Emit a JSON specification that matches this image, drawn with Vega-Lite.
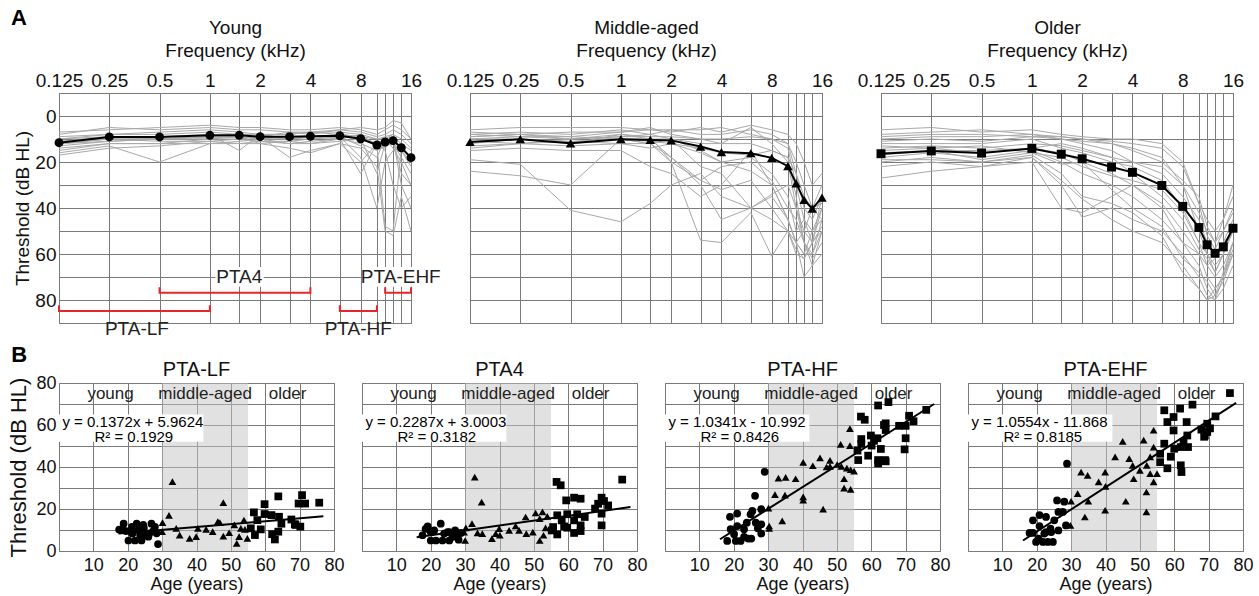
{
"$schema":"https://vega.github.io/schema/vega-lite/v6.json",
"padding":{"left":7,"top":6,"right":5,"bottom":0},
"config":{"font":"Liberation Sans","view":{"stroke":"#808080","strokeWidth":1},
"axis":{"ticks":false,"domain":false,"gridColor":"#7a7a7a","gridOpacity":1,"gridWidth":1,"labelColor":"#111","titleColor":"#111","titleFontWeight":"normal","labelFont":"Liberation Sans","titleFont":"Liberation Sans"},
"title":{"fontWeight":"normal","font":"Liberation Sans","color":"#111"},
"text":{"font":"Liberation Sans"}},
"datasets":{
"aud":[
{"g":"Y","id":"Y1","f":0.125,"t":10},{"g":"Y","id":"Y1","f":0.25,"t":8},{"g":"Y","id":"Y1","f":0.5,"t":7},{"g":"Y","id":"Y1","f":1,"t":6},{"g":"Y","id":"Y1","f":1.5,"t":7},{"g":"Y","id":"Y1","f":2,"t":8},{"g":"Y","id":"Y1","f":3,"t":8},{"g":"Y","id":"Y1","f":4,"t":7},{"g":"Y","id":"Y1","f":6,"t":7},{"g":"Y","id":"Y1","f":8,"t":8},{"g":"Y","id":"Y1","f":10,"t":10},{"g":"Y","id":"Y1","f":11.2,"t":9},{"g":"Y","id":"Y1","f":12.5,"t":8},{"g":"Y","id":"Y1","f":14,"t":10},{"g":"Y","id":"Y1","f":16,"t":14},
{"g":"Y","id":"Y2","f":0.125,"t":12},{"g":"Y","id":"Y2","f":0.25,"t":10},{"g":"Y","id":"Y2","f":0.5,"t":10},{"g":"Y","id":"Y2","f":1,"t":9},{"g":"Y","id":"Y2","f":1.5,"t":9},{"g":"Y","id":"Y2","f":2,"t":10},{"g":"Y","id":"Y2","f":3,"t":10},{"g":"Y","id":"Y2","f":4,"t":10},{"g":"Y","id":"Y2","f":6,"t":9},{"g":"Y","id":"Y2","f":8,"t":10},{"g":"Y","id":"Y2","f":10,"t":13},{"g":"Y","id":"Y2","f":11.2,"t":12},{"g":"Y","id":"Y2","f":12.5,"t":12},{"g":"Y","id":"Y2","f":14,"t":15},{"g":"Y","id":"Y2","f":16,"t":20},
{"g":"Y","id":"Y3","f":0.125,"t":14},{"g":"Y","id":"Y3","f":0.25,"t":12},{"g":"Y","id":"Y3","f":0.5,"t":12},{"g":"Y","id":"Y3","f":1,"t":10},{"g":"Y","id":"Y3","f":1.5,"t":10},{"g":"Y","id":"Y3","f":2,"t":11},{"g":"Y","id":"Y3","f":3,"t":12},{"g":"Y","id":"Y3","f":4,"t":12},{"g":"Y","id":"Y3","f":6,"t":10},{"g":"Y","id":"Y3","f":8,"t":12},{"g":"Y","id":"Y3","f":10,"t":15},{"g":"Y","id":"Y3","f":11.2,"t":13},{"g":"Y","id":"Y3","f":12.5,"t":12},{"g":"Y","id":"Y3","f":14,"t":18},{"g":"Y","id":"Y3","f":16,"t":25},
{"g":"Y","id":"Y4","f":0.125,"t":8},{"g":"Y","id":"Y4","f":0.25,"t":5},{"g":"Y","id":"Y4","f":0.5,"t":6},{"g":"Y","id":"Y4","f":1,"t":5},{"g":"Y","id":"Y4","f":1.5,"t":6},{"g":"Y","id":"Y4","f":2,"t":6},{"g":"Y","id":"Y4","f":3,"t":7},{"g":"Y","id":"Y4","f":4,"t":7},{"g":"Y","id":"Y4","f":6,"t":6},{"g":"Y","id":"Y4","f":8,"t":7},{"g":"Y","id":"Y4","f":10,"t":9},{"g":"Y","id":"Y4","f":11.2,"t":8},{"g":"Y","id":"Y4","f":12.5,"t":6},{"g":"Y","id":"Y4","f":14,"t":8},{"g":"Y","id":"Y4","f":16,"t":12},
{"g":"Y","id":"Y5","f":0.125,"t":16},{"g":"Y","id":"Y5","f":0.25,"t":13},{"g":"Y","id":"Y5","f":0.5,"t":20},{"g":"Y","id":"Y5","f":1,"t":12},{"g":"Y","id":"Y5","f":1.5,"t":11},{"g":"Y","id":"Y5","f":2,"t":10},{"g":"Y","id":"Y5","f":3,"t":12},{"g":"Y","id":"Y5","f":4,"t":11},{"g":"Y","id":"Y5","f":6,"t":10},{"g":"Y","id":"Y5","f":8,"t":25},{"g":"Y","id":"Y5","f":10,"t":12},{"g":"Y","id":"Y5","f":11.2,"t":10},{"g":"Y","id":"Y5","f":12.5,"t":14},{"g":"Y","id":"Y5","f":14,"t":20},{"g":"Y","id":"Y5","f":16,"t":30},
{"g":"Y","id":"Y6","f":0.125,"t":11},{"g":"Y","id":"Y6","f":0.25,"t":9},{"g":"Y","id":"Y6","f":0.5,"t":9},{"g":"Y","id":"Y6","f":1,"t":8},{"g":"Y","id":"Y6","f":1.5,"t":15},{"g":"Y","id":"Y6","f":2,"t":8},{"g":"Y","id":"Y6","f":3,"t":10},{"g":"Y","id":"Y6","f":4,"t":9},{"g":"Y","id":"Y6","f":6,"t":10},{"g":"Y","id":"Y6","f":8,"t":8},{"g":"Y","id":"Y6","f":10,"t":13},{"g":"Y","id":"Y6","f":11.2,"t":48},{"g":"Y","id":"Y6","f":12.5,"t":50},{"g":"Y","id":"Y6","f":14,"t":14},{"g":"Y","id":"Y6","f":16,"t":18},
{"g":"Y","id":"Y7","f":0.125,"t":9},{"g":"Y","id":"Y7","f":0.25,"t":8},{"g":"Y","id":"Y7","f":0.5,"t":8},{"g":"Y","id":"Y7","f":1,"t":7},{"g":"Y","id":"Y7","f":1.5,"t":8},{"g":"Y","id":"Y7","f":2,"t":9},{"g":"Y","id":"Y7","f":3,"t":7},{"g":"Y","id":"Y7","f":4,"t":8},{"g":"Y","id":"Y7","f":6,"t":6},{"g":"Y","id":"Y7","f":8,"t":5},{"g":"Y","id":"Y7","f":10,"t":6},{"g":"Y","id":"Y7","f":11.2,"t":5},{"g":"Y","id":"Y7","f":12.5,"t":2},{"g":"Y","id":"Y7","f":14,"t":3},{"g":"Y","id":"Y7","f":16,"t":10},
{"g":"Y","id":"Y8","f":0.125,"t":13},{"g":"Y","id":"Y8","f":0.25,"t":11},{"g":"Y","id":"Y8","f":0.5,"t":10},{"g":"Y","id":"Y8","f":1,"t":10},{"g":"Y","id":"Y8","f":1.5,"t":9},{"g":"Y","id":"Y8","f":2,"t":12},{"g":"Y","id":"Y8","f":3,"t":14},{"g":"Y","id":"Y8","f":4,"t":16},{"g":"Y","id":"Y8","f":6,"t":12},{"g":"Y","id":"Y8","f":8,"t":14},{"g":"Y","id":"Y8","f":10,"t":22},{"g":"Y","id":"Y8","f":11.2,"t":50},{"g":"Y","id":"Y8","f":12.5,"t":52},{"g":"Y","id":"Y8","f":14,"t":35},{"g":"Y","id":"Y8","f":16,"t":50},
{"g":"Y","id":"Y9","f":0.125,"t":12},{"g":"Y","id":"Y9","f":0.25,"t":10},{"g":"Y","id":"Y9","f":0.5,"t":11},{"g":"Y","id":"Y9","f":1,"t":11},{"g":"Y","id":"Y9","f":1.5,"t":10},{"g":"Y","id":"Y9","f":2,"t":9},{"g":"Y","id":"Y9","f":3,"t":18},{"g":"Y","id":"Y9","f":4,"t":15},{"g":"Y","id":"Y9","f":6,"t":12},{"g":"Y","id":"Y9","f":8,"t":20},{"g":"Y","id":"Y9","f":10,"t":12},{"g":"Y","id":"Y9","f":11.2,"t":14},{"g":"Y","id":"Y9","f":12.5,"t":10},{"g":"Y","id":"Y9","f":14,"t":25},{"g":"Y","id":"Y9","f":16,"t":30},
{"g":"Y","id":"Y10","f":0.125,"t":10},{"g":"Y","id":"Y10","f":0.25,"t":9},{"g":"Y","id":"Y10","f":0.5,"t":10},{"g":"Y","id":"Y10","f":1,"t":9},{"g":"Y","id":"Y10","f":1.5,"t":8},{"g":"Y","id":"Y10","f":2,"t":8},{"g":"Y","id":"Y10","f":3,"t":8},{"g":"Y","id":"Y10","f":4,"t":7},{"g":"Y","id":"Y10","f":6,"t":8},{"g":"Y","id":"Y10","f":8,"t":9},{"g":"Y","id":"Y10","f":10,"t":10},{"g":"Y","id":"Y10","f":11.2,"t":10},{"g":"Y","id":"Y10","f":12.5,"t":9},{"g":"Y","id":"Y10","f":14,"t":12},{"g":"Y","id":"Y10","f":16,"t":15},
{"g":"Y","id":"Y11","f":0.125,"t":17},{"g":"Y","id":"Y11","f":0.25,"t":14},{"g":"Y","id":"Y11","f":0.5,"t":13},{"g":"Y","id":"Y11","f":1,"t":11},{"g":"Y","id":"Y11","f":1.5,"t":12},{"g":"Y","id":"Y11","f":2,"t":12},{"g":"Y","id":"Y11","f":3,"t":11},{"g":"Y","id":"Y11","f":4,"t":12},{"g":"Y","id":"Y11","f":6,"t":11},{"g":"Y","id":"Y11","f":8,"t":10},{"g":"Y","id":"Y11","f":10,"t":25},{"g":"Y","id":"Y11","f":11.2,"t":12},{"g":"Y","id":"Y11","f":12.5,"t":10},{"g":"Y","id":"Y11","f":14,"t":30},{"g":"Y","id":"Y11","f":16,"t":40},
{"g":"Y","id":"Y12","f":0.125,"t":7},{"g":"Y","id":"Y12","f":0.25,"t":6},{"g":"Y","id":"Y12","f":0.5,"t":5},{"g":"Y","id":"Y12","f":1,"t":4},{"g":"Y","id":"Y12","f":1.5,"t":5},{"g":"Y","id":"Y12","f":2,"t":5},{"g":"Y","id":"Y12","f":3,"t":6},{"g":"Y","id":"Y12","f":4,"t":6},{"g":"Y","id":"Y12","f":6,"t":5},{"g":"Y","id":"Y12","f":8,"t":6},{"g":"Y","id":"Y12","f":10,"t":8},{"g":"Y","id":"Y12","f":11.2,"t":6},{"g":"Y","id":"Y12","f":12.5,"t":4},{"g":"Y","id":"Y12","f":14,"t":6},{"g":"Y","id":"Y12","f":16,"t":10},
{"g":"Y","id":"Y13","f":0.125,"t":15},{"g":"Y","id":"Y13","f":0.25,"t":12},{"g":"Y","id":"Y13","f":0.5,"t":12},{"g":"Y","id":"Y13","f":1,"t":12},{"g":"Y","id":"Y13","f":1.5,"t":12},{"g":"Y","id":"Y13","f":2,"t":11},{"g":"Y","id":"Y13","f":3,"t":11},{"g":"Y","id":"Y13","f":4,"t":10},{"g":"Y","id":"Y13","f":6,"t":9},{"g":"Y","id":"Y13","f":8,"t":18},{"g":"Y","id":"Y13","f":10,"t":40},{"g":"Y","id":"Y13","f":11.2,"t":20},{"g":"Y","id":"Y13","f":12.5,"t":15},{"g":"Y","id":"Y13","f":14,"t":12},{"g":"Y","id":"Y13","f":16,"t":20},
{"g":"Y","id":"Y14","f":0.125,"t":11},{"g":"Y","id":"Y14","f":0.25,"t":10},{"g":"Y","id":"Y14","f":0.5,"t":10},{"g":"Y","id":"Y14","f":1,"t":10},{"g":"Y","id":"Y14","f":1.5,"t":8},{"g":"Y","id":"Y14","f":2,"t":9},{"g":"Y","id":"Y14","f":3,"t":10},{"g":"Y","id":"Y14","f":4,"t":9},{"g":"Y","id":"Y14","f":6,"t":8},{"g":"Y","id":"Y14","f":8,"t":9},{"g":"Y","id":"Y14","f":10,"t":12},{"g":"Y","id":"Y14","f":11.2,"t":15},{"g":"Y","id":"Y14","f":12.5,"t":30},{"g":"Y","id":"Y14","f":14,"t":40},{"g":"Y","id":"Y14","f":16,"t":35},
{"g":"Y","id":"Y15","f":0.125,"t":12},{"g":"Y","id":"Y15","f":0.25,"t":11},{"g":"Y","id":"Y15","f":0.5,"t":10},{"g":"Y","id":"Y15","f":1,"t":9},{"g":"Y","id":"Y15","f":1.5,"t":9},{"g":"Y","id":"Y15","f":2,"t":10},{"g":"Y","id":"Y15","f":3,"t":9},{"g":"Y","id":"Y15","f":4,"t":9},{"g":"Y","id":"Y15","f":6,"t":9},{"g":"Y","id":"Y15","f":8,"t":13},{"g":"Y","id":"Y15","f":10,"t":18},{"g":"Y","id":"Y15","f":11.2,"t":10},{"g":"Y","id":"Y15","f":12.5,"t":8},{"g":"Y","id":"Y15","f":14,"t":15},{"g":"Y","id":"Y15","f":16,"t":22},
{"g":"M","id":"M1","f":0.125,"t":8},{"g":"M","id":"M1","f":0.25,"t":7},{"g":"M","id":"M1","f":0.5,"t":8},{"g":"M","id":"M1","f":1,"t":6},{"g":"M","id":"M1","f":1.5,"t":8},{"g":"M","id":"M1","f":2,"t":6},{"g":"M","id":"M1","f":3,"t":8},{"g":"M","id":"M1","f":4,"t":8},{"g":"M","id":"M1","f":6,"t":6},{"g":"M","id":"M1","f":8,"t":8},{"g":"M","id":"M1","f":10,"t":12},{"g":"M","id":"M1","f":11.2,"t":25},{"g":"M","id":"M1","f":12.5,"t":40},{"g":"M","id":"M1","f":14,"t":45},{"g":"M","id":"M1","f":16,"t":35},
{"g":"M","id":"M2","f":0.125,"t":10},{"g":"M","id":"M2","f":0.25,"t":9},{"g":"M","id":"M2","f":0.5,"t":10},{"g":"M","id":"M2","f":1,"t":9},{"g":"M","id":"M2","f":1.5,"t":9},{"g":"M","id":"M2","f":2,"t":9},{"g":"M","id":"M2","f":3,"t":10},{"g":"M","id":"M2","f":4,"t":10},{"g":"M","id":"M2","f":6,"t":9},{"g":"M","id":"M2","f":8,"t":10},{"g":"M","id":"M2","f":10,"t":14},{"g":"M","id":"M2","f":11.2,"t":30},{"g":"M","id":"M2","f":12.5,"t":45},{"g":"M","id":"M2","f":14,"t":50},{"g":"M","id":"M2","f":16,"t":40},
{"g":"M","id":"M3","f":0.125,"t":12},{"g":"M","id":"M3","f":0.25,"t":10},{"g":"M","id":"M3","f":0.5,"t":12},{"g":"M","id":"M3","f":1,"t":10},{"g":"M","id":"M3","f":1.5,"t":10},{"g":"M","id":"M3","f":2,"t":10},{"g":"M","id":"M3","f":3,"t":12},{"g":"M","id":"M3","f":4,"t":12},{"g":"M","id":"M3","f":6,"t":12},{"g":"M","id":"M3","f":8,"t":15},{"g":"M","id":"M3","f":10,"t":18},{"g":"M","id":"M3","f":11.2,"t":35},{"g":"M","id":"M3","f":12.5,"t":55},{"g":"M","id":"M3","f":14,"t":60},{"g":"M","id":"M3","f":16,"t":45},
{"g":"M","id":"M4","f":0.125,"t":6},{"g":"M","id":"M4","f":0.25,"t":5},{"g":"M","id":"M4","f":0.5,"t":5},{"g":"M","id":"M4","f":1,"t":5},{"g":"M","id":"M4","f":1.5,"t":6},{"g":"M","id":"M4","f":2,"t":7},{"g":"M","id":"M4","f":3,"t":5},{"g":"M","id":"M4","f":4,"t":7},{"g":"M","id":"M4","f":6,"t":4},{"g":"M","id":"M4","f":8,"t":6},{"g":"M","id":"M4","f":10,"t":8},{"g":"M","id":"M4","f":11.2,"t":12},{"g":"M","id":"M4","f":12.5,"t":20},{"g":"M","id":"M4","f":14,"t":30},{"g":"M","id":"M4","f":16,"t":25},
{"g":"M","id":"M5","f":0.125,"t":15},{"g":"M","id":"M5","f":0.25,"t":14},{"g":"M","id":"M5","f":0.5,"t":15},{"g":"M","id":"M5","f":1,"t":15},{"g":"M","id":"M5","f":1.5,"t":22},{"g":"M","id":"M5","f":2,"t":25},{"g":"M","id":"M5","f":3,"t":35},{"g":"M","id":"M5","f":4,"t":30},{"g":"M","id":"M5","f":6,"t":15},{"g":"M","id":"M5","f":8,"t":30},{"g":"M","id":"M5","f":10,"t":45},{"g":"M","id":"M5","f":11.2,"t":55},{"g":"M","id":"M5","f":12.5,"t":60},{"g":"M","id":"M5","f":14,"t":60},{"g":"M","id":"M5","f":16,"t":50},
{"g":"M","id":"M6","f":0.125,"t":19},{"g":"M","id":"M6","f":0.25,"t":21},{"g":"M","id":"M6","f":0.5,"t":41},{"g":"M","id":"M6","f":1,"t":46},{"g":"M","id":"M6","f":1.5,"t":38},{"g":"M","id":"M6","f":2,"t":30},{"g":"M","id":"M6","f":3,"t":25},{"g":"M","id":"M6","f":4,"t":35},{"g":"M","id":"M6","f":6,"t":40},{"g":"M","id":"M6","f":8,"t":45},{"g":"M","id":"M6","f":10,"t":50},{"g":"M","id":"M6","f":11.2,"t":60},{"g":"M","id":"M6","f":12.5,"t":62},{"g":"M","id":"M6","f":14,"t":55},{"g":"M","id":"M6","f":16,"t":50},
{"g":"M","id":"M7","f":0.125,"t":24},{"g":"M","id":"M7","f":0.25,"t":26},{"g":"M","id":"M7","f":0.5,"t":30},{"g":"M","id":"M7","f":1,"t":10},{"g":"M","id":"M7","f":1.5,"t":12},{"g":"M","id":"M7","f":2,"t":18},{"g":"M","id":"M7","f":3,"t":30},{"g":"M","id":"M7","f":4,"t":45},{"g":"M","id":"M7","f":6,"t":40},{"g":"M","id":"M7","f":8,"t":35},{"g":"M","id":"M7","f":10,"t":45},{"g":"M","id":"M7","f":11.2,"t":55},{"g":"M","id":"M7","f":12.5,"t":60},{"g":"M","id":"M7","f":14,"t":50},{"g":"M","id":"M7","f":16,"t":45},
{"g":"M","id":"M8","f":0.125,"t":14},{"g":"M","id":"M8","f":0.25,"t":12},{"g":"M","id":"M8","f":0.5,"t":11},{"g":"M","id":"M8","f":1,"t":12},{"g":"M","id":"M8","f":1.5,"t":12},{"g":"M","id":"M8","f":2,"t":10},{"g":"M","id":"M8","f":3,"t":15},{"g":"M","id":"M8","f":4,"t":20},{"g":"M","id":"M8","f":6,"t":18},{"g":"M","id":"M8","f":8,"t":25},{"g":"M","id":"M8","f":10,"t":35},{"g":"M","id":"M8","f":11.2,"t":50},{"g":"M","id":"M8","f":12.5,"t":45},{"g":"M","id":"M8","f":14,"t":55},{"g":"M","id":"M8","f":16,"t":40},
{"g":"M","id":"M9","f":0.125,"t":10},{"g":"M","id":"M9","f":0.25,"t":10},{"g":"M","id":"M9","f":0.5,"t":12},{"g":"M","id":"M9","f":1,"t":8},{"g":"M","id":"M9","f":1.5,"t":10},{"g":"M","id":"M9","f":2,"t":18},{"g":"M","id":"M9","f":3,"t":28},{"g":"M","id":"M9","f":4,"t":32},{"g":"M","id":"M9","f":6,"t":28},{"g":"M","id":"M9","f":8,"t":40},{"g":"M","id":"M9","f":10,"t":50},{"g":"M","id":"M9","f":11.2,"t":55},{"g":"M","id":"M9","f":12.5,"t":50},{"g":"M","id":"M9","f":14,"t":40},{"g":"M","id":"M9","f":16,"t":45},
{"g":"M","id":"M10","f":0.125,"t":9},{"g":"M","id":"M10","f":0.25,"t":8},{"g":"M","id":"M10","f":0.5,"t":9},{"g":"M","id":"M10","f":1,"t":10},{"g":"M","id":"M10","f":1.5,"t":11},{"g":"M","id":"M10","f":2,"t":12},{"g":"M","id":"M10","f":3,"t":14},{"g":"M","id":"M10","f":4,"t":16},{"g":"M","id":"M10","f":6,"t":17},{"g":"M","id":"M10","f":8,"t":15},{"g":"M","id":"M10","f":10,"t":18},{"g":"M","id":"M10","f":11.2,"t":25},{"g":"M","id":"M10","f":12.5,"t":35},{"g":"M","id":"M10","f":14,"t":40},{"g":"M","id":"M10","f":16,"t":38},
{"g":"M","id":"M11","f":0.125,"t":11},{"g":"M","id":"M11","f":0.25,"t":12},{"g":"M","id":"M11","f":0.5,"t":10},{"g":"M","id":"M11","f":1,"t":8},{"g":"M","id":"M11","f":1.5,"t":9},{"g":"M","id":"M11","f":2,"t":20},{"g":"M","id":"M11","f":3,"t":28},{"g":"M","id":"M11","f":4,"t":22},{"g":"M","id":"M11","f":6,"t":20},{"g":"M","id":"M11","f":8,"t":28},{"g":"M","id":"M11","f":10,"t":40},{"g":"M","id":"M11","f":11.2,"t":45},{"g":"M","id":"M11","f":12.5,"t":55},{"g":"M","id":"M11","f":14,"t":62},{"g":"M","id":"M11","f":16,"t":55},
{"g":"M","id":"M12","f":0.125,"t":7},{"g":"M","id":"M12","f":0.25,"t":8},{"g":"M","id":"M12","f":0.5,"t":7},{"g":"M","id":"M12","f":1,"t":7},{"g":"M","id":"M12","f":1.5,"t":6},{"g":"M","id":"M12","f":2,"t":6},{"g":"M","id":"M12","f":3,"t":6},{"g":"M","id":"M12","f":4,"t":5},{"g":"M","id":"M12","f":6,"t":8},{"g":"M","id":"M12","f":8,"t":10},{"g":"M","id":"M12","f":10,"t":12},{"g":"M","id":"M12","f":11.2,"t":20},{"g":"M","id":"M12","f":12.5,"t":30},{"g":"M","id":"M12","f":14,"t":40},{"g":"M","id":"M12","f":16,"t":30},
{"g":"M","id":"M13","f":0.125,"t":13},{"g":"M","id":"M13","f":0.25,"t":12},{"g":"M","id":"M13","f":0.5,"t":13},{"g":"M","id":"M13","f":1,"t":12},{"g":"M","id":"M13","f":1.5,"t":14},{"g":"M","id":"M13","f":2,"t":12},{"g":"M","id":"M13","f":3,"t":16},{"g":"M","id":"M13","f":4,"t":20},{"g":"M","id":"M13","f":6,"t":24},{"g":"M","id":"M13","f":8,"t":30},{"g":"M","id":"M13","f":10,"t":45},{"g":"M","id":"M13","f":11.2,"t":55},{"g":"M","id":"M13","f":12.5,"t":70},{"g":"M","id":"M13","f":14,"t":65},{"g":"M","id":"M13","f":16,"t":60},
{"g":"M","id":"M14","f":0.125,"t":9},{"g":"M","id":"M14","f":0.25,"t":8},{"g":"M","id":"M14","f":0.5,"t":10},{"g":"M","id":"M14","f":1,"t":9},{"g":"M","id":"M14","f":1.5,"t":8},{"g":"M","id":"M14","f":2,"t":10},{"g":"M","id":"M14","f":3,"t":22},{"g":"M","id":"M14","f":4,"t":25},{"g":"M","id":"M14","f":6,"t":40},{"g":"M","id":"M14","f":8,"t":34},{"g":"M","id":"M14","f":10,"t":30},{"g":"M","id":"M14","f":11.2,"t":40},{"g":"M","id":"M14","f":12.5,"t":50},{"g":"M","id":"M14","f":14,"t":55},{"g":"M","id":"M14","f":16,"t":35},
{"g":"M","id":"M15","f":0.125,"t":11},{"g":"M","id":"M15","f":0.25,"t":10},{"g":"M","id":"M15","f":0.5,"t":11},{"g":"M","id":"M15","f":1,"t":10},{"g":"M","id":"M15","f":1.5,"t":12},{"g":"M","id":"M15","f":2,"t":20},{"g":"M","id":"M15","f":3,"t":54},{"g":"M","id":"M15","f":4,"t":55},{"g":"M","id":"M15","f":6,"t":42},{"g":"M","id":"M15","f":8,"t":61},{"g":"M","id":"M15","f":10,"t":50},{"g":"M","id":"M15","f":11.2,"t":58},{"g":"M","id":"M15","f":12.5,"t":62},{"g":"M","id":"M15","f":14,"t":55},{"g":"M","id":"M15","f":16,"t":48},
{"g":"M","id":"M16","f":0.125,"t":8},{"g":"M","id":"M16","f":0.25,"t":9},{"g":"M","id":"M16","f":0.5,"t":9},{"g":"M","id":"M16","f":1,"t":7},{"g":"M","id":"M16","f":1.5,"t":5},{"g":"M","id":"M16","f":2,"t":8},{"g":"M","id":"M16","f":3,"t":10},{"g":"M","id":"M16","f":4,"t":12},{"g":"M","id":"M16","f":6,"t":5},{"g":"M","id":"M16","f":8,"t":12},{"g":"M","id":"M16","f":10,"t":20},{"g":"M","id":"M16","f":11.2,"t":40},{"g":"M","id":"M16","f":12.5,"t":55},{"g":"M","id":"M16","f":14,"t":65},{"g":"M","id":"M16","f":16,"t":50},
{"g":"O","id":"O1","f":0.125,"t":8},{"g":"O","id":"O1","f":0.25,"t":7},{"g":"O","id":"O1","f":0.5,"t":6},{"g":"O","id":"O1","f":1,"t":8},{"g":"O","id":"O1","f":1.5,"t":10},{"g":"O","id":"O1","f":2,"t":12},{"g":"O","id":"O1","f":3,"t":15},{"g":"O","id":"O1","f":4,"t":20},{"g":"O","id":"O1","f":6,"t":25},{"g":"O","id":"O1","f":8,"t":35},{"g":"O","id":"O1","f":10,"t":45},{"g":"O","id":"O1","f":11.2,"t":55},{"g":"O","id":"O1","f":12.5,"t":60},{"g":"O","id":"O1","f":14,"t":55},{"g":"O","id":"O1","f":16,"t":45},
{"g":"O","id":"O2","f":0.125,"t":10},{"g":"O","id":"O2","f":0.25,"t":9},{"g":"O","id":"O2","f":0.5,"t":9},{"g":"O","id":"O2","f":1,"t":8},{"g":"O","id":"O2","f":1.5,"t":9},{"g":"O","id":"O2","f":2,"t":10},{"g":"O","id":"O2","f":3,"t":12},{"g":"O","id":"O2","f":4,"t":14},{"g":"O","id":"O2","f":6,"t":18},{"g":"O","id":"O2","f":8,"t":30},{"g":"O","id":"O2","f":10,"t":50},{"g":"O","id":"O2","f":11.2,"t":60},{"g":"O","id":"O2","f":12.5,"t":65},{"g":"O","id":"O2","f":14,"t":60},{"g":"O","id":"O2","f":16,"t":50},
{"g":"O","id":"O3","f":0.125,"t":12},{"g":"O","id":"O3","f":0.25,"t":12},{"g":"O","id":"O3","f":0.5,"t":12},{"g":"O","id":"O3","f":1,"t":10},{"g":"O","id":"O3","f":1.5,"t":14},{"g":"O","id":"O3","f":2,"t":16},{"g":"O","id":"O3","f":3,"t":20},{"g":"O","id":"O3","f":4,"t":22},{"g":"O","id":"O3","f":6,"t":28},{"g":"O","id":"O3","f":8,"t":40},{"g":"O","id":"O3","f":10,"t":55},{"g":"O","id":"O3","f":11.2,"t":65},{"g":"O","id":"O3","f":12.5,"t":70},{"g":"O","id":"O3","f":14,"t":65},{"g":"O","id":"O3","f":16,"t":55},
{"g":"O","id":"O4","f":0.125,"t":14},{"g":"O","id":"O4","f":0.25,"t":13},{"g":"O","id":"O4","f":0.5,"t":14},{"g":"O","id":"O4","f":1,"t":12},{"g":"O","id":"O4","f":1.5,"t":13},{"g":"O","id":"O4","f":2,"t":15},{"g":"O","id":"O4","f":3,"t":18},{"g":"O","id":"O4","f":4,"t":20},{"g":"O","id":"O4","f":6,"t":22},{"g":"O","id":"O4","f":8,"t":30},{"g":"O","id":"O4","f":10,"t":42},{"g":"O","id":"O4","f":11.2,"t":50},{"g":"O","id":"O4","f":12.5,"t":55},{"g":"O","id":"O4","f":14,"t":50},{"g":"O","id":"O4","f":16,"t":40},
{"g":"O","id":"O5","f":0.125,"t":16},{"g":"O","id":"O5","f":0.25,"t":15},{"g":"O","id":"O5","f":0.5,"t":15},{"g":"O","id":"O5","f":1,"t":14},{"g":"O","id":"O5","f":1.5,"t":16},{"g":"O","id":"O5","f":2,"t":20},{"g":"O","id":"O5","f":3,"t":25},{"g":"O","id":"O5","f":4,"t":30},{"g":"O","id":"O5","f":6,"t":38},{"g":"O","id":"O5","f":8,"t":50},{"g":"O","id":"O5","f":10,"t":60},{"g":"O","id":"O5","f":11.2,"t":70},{"g":"O","id":"O5","f":12.5,"t":75},{"g":"O","id":"O5","f":14,"t":70},{"g":"O","id":"O5","f":16,"t":60},
{"g":"O","id":"O6","f":0.125,"t":18},{"g":"O","id":"O6","f":0.25,"t":16},{"g":"O","id":"O6","f":0.5,"t":18},{"g":"O","id":"O6","f":1,"t":15},{"g":"O","id":"O6","f":1.5,"t":20},{"g":"O","id":"O6","f":2,"t":25},{"g":"O","id":"O6","f":3,"t":30},{"g":"O","id":"O6","f":4,"t":35},{"g":"O","id":"O6","f":6,"t":45},{"g":"O","id":"O6","f":8,"t":55},{"g":"O","id":"O6","f":10,"t":65},{"g":"O","id":"O6","f":11.2,"t":75},{"g":"O","id":"O6","f":12.5,"t":80},{"g":"O","id":"O6","f":14,"t":75},{"g":"O","id":"O6","f":16,"t":65},
{"g":"O","id":"O7","f":0.125,"t":20},{"g":"O","id":"O7","f":0.25,"t":18},{"g":"O","id":"O7","f":0.5,"t":20},{"g":"O","id":"O7","f":1,"t":18},{"g":"O","id":"O7","f":1.5,"t":30},{"g":"O","id":"O7","f":2,"t":44},{"g":"O","id":"O7","f":3,"t":40},{"g":"O","id":"O7","f":4,"t":45},{"g":"O","id":"O7","f":6,"t":50},{"g":"O","id":"O7","f":8,"t":60},{"g":"O","id":"O7","f":10,"t":70},{"g":"O","id":"O7","f":11.2,"t":78},{"g":"O","id":"O7","f":12.5,"t":80},{"g":"O","id":"O7","f":14,"t":70},{"g":"O","id":"O7","f":16,"t":55},
{"g":"O","id":"O8","f":0.125,"t":22},{"g":"O","id":"O8","f":0.25,"t":20},{"g":"O","id":"O8","f":0.5,"t":22},{"g":"O","id":"O8","f":1,"t":20},{"g":"O","id":"O8","f":1.5,"t":40},{"g":"O","id":"O8","f":2,"t":42},{"g":"O","id":"O8","f":3,"t":35},{"g":"O","id":"O8","f":4,"t":30},{"g":"O","id":"O8","f":6,"t":40},{"g":"O","id":"O8","f":8,"t":55},{"g":"O","id":"O8","f":10,"t":60},{"g":"O","id":"O8","f":11.2,"t":65},{"g":"O","id":"O8","f":12.5,"t":62},{"g":"O","id":"O8","f":14,"t":55},{"g":"O","id":"O8","f":16,"t":50},
{"g":"O","id":"O9","f":0.125,"t":27},{"g":"O","id":"O9","f":0.25,"t":24},{"g":"O","id":"O9","f":0.5,"t":22},{"g":"O","id":"O9","f":1,"t":18},{"g":"O","id":"O9","f":1.5,"t":28},{"g":"O","id":"O9","f":2,"t":36},{"g":"O","id":"O9","f":3,"t":45},{"g":"O","id":"O9","f":4,"t":50},{"g":"O","id":"O9","f":6,"t":55},{"g":"O","id":"O9","f":8,"t":65},{"g":"O","id":"O9","f":10,"t":75},{"g":"O","id":"O9","f":11.2,"t":80},{"g":"O","id":"O9","f":12.5,"t":78},{"g":"O","id":"O9","f":14,"t":72},{"g":"O","id":"O9","f":16,"t":60},
{"g":"O","id":"O10","f":0.125,"t":11},{"g":"O","id":"O10","f":0.25,"t":10},{"g":"O","id":"O10","f":0.5,"t":11},{"g":"O","id":"O10","f":1,"t":9},{"g":"O","id":"O10","f":1.5,"t":9},{"g":"O","id":"O10","f":2,"t":10},{"g":"O","id":"O10","f":3,"t":11},{"g":"O","id":"O10","f":4,"t":12},{"g":"O","id":"O10","f":6,"t":14},{"g":"O","id":"O10","f":8,"t":22},{"g":"O","id":"O10","f":10,"t":38},{"g":"O","id":"O10","f":11.2,"t":45},{"g":"O","id":"O10","f":12.5,"t":50},{"g":"O","id":"O10","f":14,"t":45},{"g":"O","id":"O10","f":16,"t":35},
{"g":"O","id":"O11","f":0.125,"t":15},{"g":"O","id":"O11","f":0.25,"t":14},{"g":"O","id":"O11","f":0.5,"t":16},{"g":"O","id":"O11","f":1,"t":14},{"g":"O","id":"O11","f":1.5,"t":12},{"g":"O","id":"O11","f":2,"t":14},{"g":"O","id":"O11","f":3,"t":18},{"g":"O","id":"O11","f":4,"t":25},{"g":"O","id":"O11","f":6,"t":35},{"g":"O","id":"O11","f":8,"t":45},{"g":"O","id":"O11","f":10,"t":58},{"g":"O","id":"O11","f":11.2,"t":62},{"g":"O","id":"O11","f":12.5,"t":68},{"g":"O","id":"O11","f":14,"t":60},{"g":"O","id":"O11","f":16,"t":50},
{"g":"O","id":"O12","f":0.125,"t":9},{"g":"O","id":"O12","f":0.25,"t":8},{"g":"O","id":"O12","f":0.5,"t":8},{"g":"O","id":"O12","f":1,"t":9},{"g":"O","id":"O12","f":1.5,"t":10},{"g":"O","id":"O12","f":2,"t":11},{"g":"O","id":"O12","f":3,"t":12},{"g":"O","id":"O12","f":4,"t":15},{"g":"O","id":"O12","f":6,"t":20},{"g":"O","id":"O12","f":8,"t":28},{"g":"O","id":"O12","f":10,"t":35},{"g":"O","id":"O12","f":11.2,"t":48},{"g":"O","id":"O12","f":12.5,"t":55},{"g":"O","id":"O12","f":14,"t":45},{"g":"O","id":"O12","f":16,"t":30},
{"g":"O","id":"O13","f":0.125,"t":13},{"g":"O","id":"O13","f":0.25,"t":14},{"g":"O","id":"O13","f":0.5,"t":13},{"g":"O","id":"O13","f":1,"t":16},{"g":"O","id":"O13","f":1.5,"t":18},{"g":"O","id":"O13","f":2,"t":22},{"g":"O","id":"O13","f":3,"t":26},{"g":"O","id":"O13","f":4,"t":28},{"g":"O","id":"O13","f":6,"t":32},{"g":"O","id":"O13","f":8,"t":42},{"g":"O","id":"O13","f":10,"t":55},{"g":"O","id":"O13","f":11.2,"t":60},{"g":"O","id":"O13","f":12.5,"t":68},{"g":"O","id":"O13","f":14,"t":60},{"g":"O","id":"O13","f":16,"t":48},
{"g":"O","id":"O14","f":0.125,"t":17},{"g":"O","id":"O14","f":0.25,"t":15},{"g":"O","id":"O14","f":0.5,"t":19},{"g":"O","id":"O14","f":1,"t":16},{"g":"O","id":"O14","f":1.5,"t":21},{"g":"O","id":"O14","f":2,"t":20},{"g":"O","id":"O14","f":3,"t":32},{"g":"O","id":"O14","f":4,"t":40},{"g":"O","id":"O14","f":6,"t":48},{"g":"O","id":"O14","f":8,"t":62},{"g":"O","id":"O14","f":10,"t":68},{"g":"O","id":"O14","f":11.2,"t":72},{"g":"O","id":"O14","f":12.5,"t":78},{"g":"O","id":"O14","f":14,"t":68},{"g":"O","id":"O14","f":16,"t":55},
{"g":"O","id":"O15","f":0.125,"t":6},{"g":"O","id":"O15","f":0.25,"t":5},{"g":"O","id":"O15","f":0.5,"t":7},{"g":"O","id":"O15","f":1,"t":6},{"g":"O","id":"O15","f":1.5,"t":8},{"g":"O","id":"O15","f":2,"t":9},{"g":"O","id":"O15","f":3,"t":10},{"g":"O","id":"O15","f":4,"t":10},{"g":"O","id":"O15","f":6,"t":12},{"g":"O","id":"O15","f":8,"t":20},{"g":"O","id":"O15","f":10,"t":38},{"g":"O","id":"O15","f":11.2,"t":52},{"g":"O","id":"O15","f":12.5,"t":58},{"g":"O","id":"O15","f":14,"t":50},{"g":"O","id":"O15","f":16,"t":42},
{"g":"O","id":"O16","f":0.125,"t":19},{"g":"O","id":"O16","f":0.25,"t":19},{"g":"O","id":"O16","f":0.5,"t":20},{"g":"O","id":"O16","f":1,"t":17},{"g":"O","id":"O16","f":1.5,"t":25},{"g":"O","id":"O16","f":2,"t":35},{"g":"O","id":"O16","f":3,"t":38},{"g":"O","id":"O16","f":4,"t":42},{"g":"O","id":"O16","f":6,"t":52},{"g":"O","id":"O16","f":8,"t":68},{"g":"O","id":"O16","f":10,"t":75},{"g":"O","id":"O16","f":11.2,"t":80},{"g":"O","id":"O16","f":12.5,"t":75},{"g":"O","id":"O16","f":14,"t":70},{"g":"O","id":"O16","f":16,"t":58}
],
"mean":[
{"g":"Y","f":0.125,"t":11.6},{"g":"Y","f":0.25,"t":9.1},{"g":"Y","f":0.5,"t":9.1},{"g":"Y","f":1,"t":8.4},{"g":"Y","f":1.5,"t":8.4},{"g":"Y","f":2,"t":9},{"g":"Y","f":3,"t":9},{"g":"Y","f":4,"t":8.8},{"g":"Y","f":6,"t":8.6},{"g":"Y","f":8,"t":9.9},{"g":"Y","f":10,"t":12.6},{"g":"Y","f":11.2,"t":11.3},{"g":"Y","f":12.5,"t":10.7},{"g":"Y","f":14,"t":13.8},{"g":"Y","f":16,"t":18.1},
{"g":"M","f":0.125,"t":11.3},{"g":"M","f":0.25,"t":10.1},{"g":"M","f":0.5,"t":11.9},{"g":"M","f":1,"t":10.1},{"g":"M","f":1.5,"t":10.4},{"g":"M","f":2,"t":10.6},{"g":"M","f":3,"t":13.3},{"g":"M","f":4,"t":15.7},{"g":"M","f":6,"t":16.2},{"g":"M","f":8,"t":18.2},{"g":"M","f":10,"t":21.8},{"g":"M","f":11.2,"t":29.3},{"g":"M","f":12.5,"t":36.5},{"g":"M","f":14,"t":40.3},{"g":"M","f":16,"t":35.5},
{"g":"O","f":0.125,"t":16.4},{"g":"O","f":0.25,"t":15.2},{"g":"O","f":0.5,"t":16.1},{"g":"O","f":1,"t":14.1},{"g":"O","f":1.5,"t":16.6},{"g":"O","f":2,"t":18.6},{"g":"O","f":3,"t":22.2},{"g":"O","f":4,"t":24.5},{"g":"O","f":6,"t":30.2},{"g":"O","f":8,"t":39.3},{"g":"O","f":10,"t":48.5},{"g":"O","f":11.2,"t":56},{"g":"O","f":12.5,"t":59.7},{"g":"O","f":14,"t":56.9},{"g":"O","f":16,"t":48.8}
],
"brk":[
{"b":"LF","o":1,"f":0.125,"t":82.3},{"b":"LF","o":2,"f":0.125,"t":84.8},{"b":"LF","o":3,"f":1,"t":84.8},{"b":"LF","o":4,"f":1,"t":82.3},
{"b":"A4","o":1,"f":0.5,"t":74.5},{"b":"A4","o":2,"f":0.5,"t":76.8},{"b":"A4","o":3,"f":4,"t":76.8},{"b":"A4","o":4,"f":4,"t":74.5},
{"b":"HF","o":1,"f":6,"t":82.3},{"b":"HF","o":2,"f":6,"t":84.8},{"b":"HF","o":3,"f":10,"t":84.8},{"b":"HF","o":4,"f":10,"t":82.3},
{"b":"EHF","o":1,"f":11.2,"t":74.5},{"b":"EHF","o":2,"f":11.2,"t":76.8},{"b":"EHF","o":3,"f":16,"t":76.8},{"b":"EHF","o":4,"f":16,"t":74.5}
],
"brkbox":[
{"f":1.08,"f2":2.1,"t":65.6,"t2":74.2},{"f":8.2,"f2":25,"t":65.6,"t2":74.2}
],
"brkt":[
{"f":0.366,"t":92.6,"s":"PTA-LF"},{"f":1.5,"t":69.9,"s":"PTA4"},{"f":7.73,"t":92.6,"s":"PTA-HF"},{"f":13.9,"t":69.9,"s":"PTA-EHF"}
],
"sc":[
{"p":"LF","c":"y","a":18.8,"t":13},{"p":"LF","c":"y","a":18.6,"t":10},{"p":"LF","c":"y","a":20.2,"t":5},{"p":"LF","c":"y","a":21.2,"t":11.5},{"p":"LF","c":"y","a":21.4,"t":8.5},{"p":"LF","c":"y","a":22.1,"t":5},{"p":"LF","c":"y","a":22.6,"t":13},{"p":"LF","c":"y","a":23.1,"t":10},{"p":"LF","c":"y","a":24,"t":5},{"p":"LF","c":"y","a":24.7,"t":11},{"p":"LF","c":"y","a":25.3,"t":7.6},{"p":"LF","c":"y","a":26.3,"t":8.4},{"p":"LF","c":"y","a":26.9,"t":13},{"p":"LF","c":"y","a":27.9,"t":11.5},{"p":"LF","c":"y","a":28.4,"t":8.4},{"p":"LF","c":"y","a":28.8,"t":3.3},{"p":"LF","c":"y","a":27.4,"t":9.5},{"p":"LF","c":"y","a":21.2,"t":8.4},{"p":"LF","c":"y","a":23.6,"t":7.6},{"p":"LF","c":"y","a":26,"t":6.8},{"p":"LF","c":"y","a":24.5,"t":12.4},{"p":"LF","c":"y","a":19.5,"t":9.5},{"p":"LF","c":"y","a":17.5,"t":10.2},
{"p":"LF","c":"m","a":30.1,"t":13.5},{"p":"LF","c":"m","a":30,"t":9.2},{"p":"LF","c":"m","a":32,"t":17},{"p":"LF","c":"m","a":33,"t":33},{"p":"LF","c":"m","a":34.1,"t":10.8},{"p":"LF","c":"m","a":35.1,"t":7.6},{"p":"LF","c":"m","a":38,"t":6},{"p":"LF","c":"m","a":39.9,"t":6.8},{"p":"LF","c":"m","a":40.4,"t":10.8},{"p":"LF","c":"m","a":42.8,"t":10.3},{"p":"LF","c":"m","a":44.7,"t":9.2},{"p":"LF","c":"m","a":46.2,"t":14},{"p":"LF","c":"m","a":46.8,"t":13.5},{"p":"LF","c":"m","a":47.8,"t":23},{"p":"LF","c":"m","a":47.8,"t":7.1},{"p":"LF","c":"m","a":49.5,"t":8.7},{"p":"LF","c":"m","a":51,"t":12.4},{"p":"LF","c":"m","a":51.7,"t":3.6},{"p":"LF","c":"m","a":52.4,"t":6.8},{"p":"LF","c":"m","a":53.8,"t":14.7},{"p":"LF","c":"m","a":52.9,"t":10.8},{"p":"LF","c":"m","a":54.8,"t":6},{"p":"LF","c":"m","a":54.1,"t":10.3},
{"p":"LF","c":"o","a":55.8,"t":10.8},{"p":"LF","c":"o","a":56.7,"t":18.4},{"p":"LF","c":"o","a":57,"t":7.6},{"p":"LF","c":"o","a":57.7,"t":14.7},{"p":"LF","c":"o","a":58.7,"t":10.3},{"p":"LF","c":"o","a":59.8,"t":22.3},{"p":"LF","c":"o","a":59.8,"t":17.6},{"p":"LF","c":"o","a":61.8,"t":17.1},{"p":"LF","c":"o","a":62,"t":8},{"p":"LF","c":"o","a":62.8,"t":5.5},{"p":"LF","c":"o","a":63.8,"t":26},{"p":"LF","c":"o","a":64,"t":16.3},{"p":"LF","c":"o","a":63.8,"t":9.2},{"p":"LF","c":"o","a":64.7,"t":13},{"p":"LF","c":"o","a":67.6,"t":15},{"p":"LF","c":"o","a":68.6,"t":12.8},{"p":"LF","c":"o","a":68.8,"t":12.4},{"p":"LF","c":"o","a":70.7,"t":26.6},{"p":"LF","c":"o","a":69.7,"t":22.6},{"p":"LF","c":"o","a":71.6,"t":22.6},{"p":"LF","c":"o","a":70.2,"t":11.6},{"p":"LF","c":"o","a":75.7,"t":23},
{"p":"A4","c":"y","a":19.1,"t":11.7},{"p":"A4","c":"y","a":17.6,"t":7.5},{"p":"A4","c":"y","a":20,"t":5},{"p":"A4","c":"y","a":21,"t":9.8},{"p":"A4","c":"y","a":22.9,"t":13},{"p":"A4","c":"y","a":21.5,"t":5},{"p":"A4","c":"y","a":23.4,"t":5},{"p":"A4","c":"y","a":24.9,"t":9},{"p":"A4","c":"y","a":25.4,"t":5},{"p":"A4","c":"y","a":26.3,"t":6.7},{"p":"A4","c":"y","a":27.1,"t":9.8},{"p":"A4","c":"y","a":27.8,"t":7.5},{"p":"A4","c":"y","a":28.8,"t":8.6},{"p":"A4","c":"y","a":28.1,"t":5.4},{"p":"A4","c":"y","a":20,"t":9},{"p":"A4","c":"y","a":23.9,"t":8.3},{"p":"A4","c":"y","a":25.4,"t":9},{"p":"A4","c":"y","a":18.5,"t":10.5},
{"p":"A4","c":"m","a":29.7,"t":9},{"p":"A4","c":"m","a":30.2,"t":11},{"p":"A4","c":"m","a":30,"t":5},{"p":"A4","c":"m","a":32,"t":13},{"p":"A4","c":"m","a":32.8,"t":35.2},{"p":"A4","c":"m","a":33.6,"t":8.6},{"p":"A4","c":"m","a":34.8,"t":23.3},{"p":"A4","c":"m","a":35,"t":8.3},{"p":"A4","c":"m","a":37.8,"t":5.9},{"p":"A4","c":"m","a":38.9,"t":8.3},{"p":"A4","c":"m","a":39.9,"t":10.6},{"p":"A4","c":"m","a":40.1,"t":7.5},{"p":"A4","c":"m","a":42.8,"t":9.8},{"p":"A4","c":"m","a":44.7,"t":11.9},{"p":"A4","c":"m","a":45.7,"t":9.8},{"p":"A4","c":"m","a":47.6,"t":16.2},{"p":"A4","c":"m","a":47.8,"t":8.3},{"p":"A4","c":"m","a":49.7,"t":9},{"p":"A4","c":"m","a":50.5,"t":18.1},{"p":"A4","c":"m","a":51.7,"t":15.4},{"p":"A4","c":"m","a":51.7,"t":5},{"p":"A4","c":"m","a":52.5,"t":18.6},{"p":"A4","c":"m","a":52.8,"t":7.5},{"p":"A4","c":"m","a":53.9,"t":16.5},{"p":"A4","c":"m","a":53.4,"t":11},
{"p":"A4","c":"o","a":55.2,"t":9.8},{"p":"A4","c":"o","a":55.6,"t":11.4},{"p":"A4","c":"o","a":56.6,"t":32.9},{"p":"A4","c":"o","a":56.8,"t":17},{"p":"A4","c":"o","a":56.8,"t":7.9},{"p":"A4","c":"o","a":57.8,"t":31.3},{"p":"A4","c":"o","a":58.1,"t":14.6},{"p":"A4","c":"o","a":58.8,"t":11.7},{"p":"A4","c":"o","a":59.4,"t":24.1},{"p":"A4","c":"o","a":59.7,"t":17.5},{"p":"A4","c":"o","a":59.7,"t":11.1},{"p":"A4","c":"o","a":61.7,"t":25.4},{"p":"A4","c":"o","a":61.7,"t":14.6},{"p":"A4","c":"o","a":61.7,"t":8.6},{"p":"A4","c":"o","a":62.6,"t":17.5},{"p":"A4","c":"o","a":63.6,"t":24.9},{"p":"A4","c":"o","a":63.6,"t":12.2},{"p":"A4","c":"o","a":63.6,"t":9.5},{"p":"A4","c":"o","a":64.8,"t":16.2},{"p":"A4","c":"o","a":67.8,"t":20.2},{"p":"A4","c":"o","a":68.7,"t":22.5},{"p":"A4","c":"o","a":69.7,"t":25.4},{"p":"A4","c":"o","a":69.7,"t":17.8},{"p":"A4","c":"o","a":69.7,"t":12.2},{"p":"A4","c":"o","a":71.6,"t":21.7},{"p":"A4","c":"o","a":75.7,"t":34},{"p":"A4","c":"o","a":70.4,"t":23.8},
{"p":"HF","c":"y","a":18.1,"t":4.8},{"p":"HF","c":"y","a":18.9,"t":16.3},{"p":"HF","c":"y","a":19.1,"t":10.4},{"p":"HF","c":"y","a":20.1,"t":8},{"p":"HF","c":"y","a":21,"t":17.8},{"p":"HF","c":"y","a":20.6,"t":4.8},{"p":"HF","c":"y","a":22,"t":4.8},{"p":"HF","c":"y","a":23,"t":6.7},{"p":"HF","c":"y","a":24.2,"t":5.9},{"p":"HF","c":"y","a":25.1,"t":5.9},{"p":"HF","c":"y","a":23.8,"t":13.5},{"p":"HF","c":"y","a":25.4,"t":19.1},{"p":"HF","c":"y","a":26.2,"t":26.3},{"p":"HF","c":"y","a":26.4,"t":13.5},{"p":"HF","c":"y","a":27,"t":10.8},{"p":"HF","c":"y","a":28,"t":19.9},{"p":"HF","c":"y","a":28,"t":8.3},{"p":"HF","c":"y","a":28,"t":12.7},{"p":"HF","c":"y","a":29,"t":37.7},{"p":"HF","c":"y","a":21,"t":11.9},{"p":"HF","c":"y","a":23,"t":10.4},{"p":"HF","c":"y","a":24.9,"t":17.5},
{"p":"HF","c":"m","a":30.1,"t":20.4},{"p":"HF","c":"m","a":30.3,"t":11.9},{"p":"HF","c":"m","a":30.3,"t":10.8},{"p":"HF","c":"m","a":32,"t":26.8},{"p":"HF","c":"m","a":33,"t":34.7},{"p":"HF","c":"m","a":34.1,"t":14.3},{"p":"HF","c":"m","a":35.1,"t":35.1},{"p":"HF","c":"m","a":34.9,"t":26.6},{"p":"HF","c":"m","a":38,"t":34.4},{"p":"HF","c":"m","a":40.2,"t":42.2},{"p":"HF","c":"m","a":40.2,"t":25.8},{"p":"HF","c":"m","a":40.2,"t":24.2},{"p":"HF","c":"m","a":43,"t":40.6},{"p":"HF","c":"m","a":45.1,"t":44.3},{"p":"HF","c":"m","a":46,"t":19.9},{"p":"HF","c":"m","a":47,"t":40},{"p":"HF","c":"m","a":48,"t":43.2},{"p":"HF","c":"m","a":48,"t":40.3},{"p":"HF","c":"m","a":50.1,"t":41.2},{"p":"HF","c":"m","a":51.1,"t":50.8},{"p":"HF","c":"m","a":51.3,"t":40.3},{"p":"HF","c":"m","a":52.1,"t":34.4},{"p":"HF","c":"m","a":52.1,"t":29.9},{"p":"HF","c":"m","a":52.9,"t":39.5},{"p":"HF","c":"m","a":53.8,"t":58.3},{"p":"HF","c":"m","a":53.8,"t":50.2},{"p":"HF","c":"m","a":54,"t":29.3},{"p":"HF","c":"m","a":54,"t":38.7},{"p":"HF","c":"m","a":55,"t":38},
{"p":"HF","c":"o","a":56,"t":47.8},{"p":"HF","c":"o","a":56.2,"t":43.3},{"p":"HF","c":"o","a":57,"t":64},{"p":"HF","c":"o","a":57.1,"t":53.3},{"p":"HF","c":"o","a":58.1,"t":62.5},{"p":"HF","c":"o","a":57.1,"t":51},{"p":"HF","c":"o","a":59.1,"t":45.4},{"p":"HF","c":"o","a":59.9,"t":55},{"p":"HF","c":"o","a":60.1,"t":50.2},{"p":"HF","c":"o","a":60.8,"t":52.5},{"p":"HF","c":"o","a":61.8,"t":53.7},{"p":"HF","c":"o","a":62,"t":69.3},{"p":"HF","c":"o","a":62,"t":43.3},{"p":"HF","c":"o","a":62,"t":41.7},{"p":"HF","c":"o","a":62.8,"t":48.6},{"p":"HF","c":"o","a":64,"t":43.3},{"p":"HF","c":"o","a":64.2,"t":57.6},{"p":"HF","c":"o","a":64.2,"t":42.7},{"p":"HF","c":"o","a":65,"t":70.9},{"p":"HF","c":"o","a":64.2,"t":60.8},{"p":"HF","c":"o","a":68.1,"t":59.6},{"p":"HF","c":"o","a":69.7,"t":48.4},{"p":"HF","c":"o","a":70,"t":59.6},{"p":"HF","c":"o","a":70,"t":53.7},{"p":"HF","c":"o","a":71,"t":64.4},{"p":"HF","c":"o","a":72.3,"t":61.8},{"p":"HF","c":"o","a":76,"t":67.2},{"p":"HF","c":"o","a":63.7,"t":60},
{"p":"EHF","c":"y","a":17.9,"t":8.6},{"p":"EHF","c":"y","a":18.9,"t":14.6},{"p":"EHF","c":"y","a":18.9,"t":8.6},{"p":"EHF","c":"y","a":19.8,"t":4.3},{"p":"EHF","c":"y","a":20.8,"t":11.9},{"p":"EHF","c":"y","a":20.8,"t":17.1},{"p":"EHF","c":"y","a":21.8,"t":4.3},{"p":"EHF","c":"y","a":22.2,"t":8.3},{"p":"EHF","c":"y","a":22.7,"t":16.2},{"p":"EHF","c":"y","a":23.2,"t":4.3},{"p":"EHF","c":"y","a":24,"t":10.6},{"p":"EHF","c":"y","a":24.2,"t":9},{"p":"EHF","c":"y","a":24.7,"t":4.3},{"p":"EHF","c":"y","a":25.1,"t":14.6},{"p":"EHF","c":"y","a":25.9,"t":24.1},{"p":"EHF","c":"y","a":26.3,"t":18.6},{"p":"EHF","c":"y","a":26.3,"t":9.8},{"p":"EHF","c":"y","a":27.6,"t":18.6},{"p":"EHF","c":"y","a":28,"t":23.5},{"p":"EHF","c":"y","a":28.5,"t":12.2},{"p":"EHF","c":"y","a":28.8,"t":41.6},{"p":"EHF","c":"y","a":20.5,"t":5.9},{"p":"EHF","c":"y","a":22.7,"t":9},
{"p":"EHF","c":"m","a":29.8,"t":12.2},{"p":"EHF","c":"m","a":30,"t":23.7},{"p":"EHF","c":"m","a":31.9,"t":27.3},{"p":"EHF","c":"m","a":32.9,"t":37.6},{"p":"EHF","c":"m","a":34,"t":16.2},{"p":"EHF","c":"m","a":34.8,"t":36},{"p":"EHF","c":"m","a":35,"t":23.7},{"p":"EHF","c":"m","a":38,"t":32.9},{"p":"EHF","c":"m","a":39.9,"t":37.6},{"p":"EHF","c":"m","a":40,"t":30.8},{"p":"EHF","c":"m","a":39.9,"t":19.4},{"p":"EHF","c":"m","a":42.8,"t":44.8},{"p":"EHF","c":"m","a":45,"t":52.2},{"p":"EHF","c":"m","a":45.9,"t":23.7},{"p":"EHF","c":"m","a":46.9,"t":44},{"p":"EHF","c":"m","a":47.9,"t":40.8},{"p":"EHF","c":"m","a":48.2,"t":34.4},{"p":"EHF","c":"m","a":50,"t":38.4},{"p":"EHF","c":"m","a":51.1,"t":52.8},{"p":"EHF","c":"m","a":51.9,"t":28.1},{"p":"EHF","c":"m","a":51.9,"t":18.6},{"p":"EHF","c":"m","a":52,"t":40.8},{"p":"EHF","c":"m","a":53,"t":36.8},{"p":"EHF","c":"m","a":54,"t":57.5},{"p":"EHF","c":"m","a":54,"t":49.5},{"p":"EHF","c":"m","a":54,"t":32.9},{"p":"EHF","c":"m","a":55,"t":36.8},{"p":"EHF","c":"m","a":53,"t":44.8},
{"p":"EHF","c":"o","a":55.9,"t":46.3},{"p":"EHF","c":"o","a":55.9,"t":42.3},{"p":"EHF","c":"o","a":57.1,"t":67},{"p":"EHF","c":"o","a":57.1,"t":51.1},{"p":"EHF","c":"o","a":58,"t":61.4},{"p":"EHF","c":"o","a":58,"t":39.4},{"p":"EHF","c":"o","a":59,"t":44.9},{"p":"EHF","c":"o","a":59.8,"t":63.8},{"p":"EHF","c":"o","a":59.8,"t":57.4},{"p":"EHF","c":"o","a":60,"t":48.7},{"p":"EHF","c":"o","a":61.7,"t":67.8},{"p":"EHF","c":"o","a":61.9,"t":49.5},{"p":"EHF","c":"o","a":61.9,"t":40.8},{"p":"EHF","c":"o","a":62.1,"t":37.6},{"p":"EHF","c":"o","a":62.7,"t":51.9},{"p":"EHF","c":"o","a":63.6,"t":61.4},{"p":"EHF","c":"o","a":63.8,"t":55},{"p":"EHF","c":"o","a":64,"t":49.5},{"p":"EHF","c":"o","a":65.3,"t":69.7},{"p":"EHF","c":"o","a":67.9,"t":57.8},{"p":"EHF","c":"o","a":68.9,"t":55},{"p":"EHF","c":"o","a":69.6,"t":60.6},{"p":"EHF","c":"o","a":69.6,"t":56.7},{"p":"EHF","c":"o","a":70.4,"t":58.4},{"p":"EHF","c":"o","a":72,"t":64.1},{"p":"EHF","c":"o","a":76.2,"t":75.2},{"p":"EHF","c":"o","a":68.7,"t":54.4}
],
"reg":[
{"p":"LF","a":17.3,"t":8.3},{"p":"LF","a":76.9,"t":16.5},{"p":"A4","a":15.9,"t":6.6},{"p":"A4","a":78.1,"t":20.9},{"p":"HF","a":16,"t":5.6},{"p":"HF","a":78.3,"t":70},{"p":"EHF","a":16,"t":5},{"p":"EHF","a":78,"t":70.5}
],
"eq":[
{"p":"LF","a":1,"t":61.5,"s":"y = 0.1372x + 5.9624"},{"p":"LF","a":10.3,"t":54.3,"s":"R² = 0.1929"},
{"p":"A4","a":1,"t":61.5,"s":"y = 0.2287x + 3.0003"},{"p":"A4","a":10.3,"t":54.3,"s":"R² = 0.3182"},
{"p":"HF","a":1,"t":61.5,"s":"y = 1.0341x - 10.992"},{"p":"HF","a":10.3,"t":54.3,"s":"R² = 0.8426"},
{"p":"EHF","a":1,"t":61.5,"s":"y = 1.0554x - 11.868"},{"p":"EHF","a":10.3,"t":54.3,"s":"R² = 0.8185"}
],
"band":[{"a":30,"a2":55,"t":0,"t2":80}],
"box":[{"a":0,"a2":42,"t":52,"t2":65}],
"grp":[{"a":15,"t":75,"s":"young"},{"a":42.5,"t":75,"s":"middle-aged"},{"a":66.5,"t":75,"s":"older"}]
},
"vconcat":[
{"hconcat":[
{"width":352,"height":230,
"encoding":{"x":{"field":"f","type":"quantitative","scale":{"type":"log","base":2,"domain":[0.125,16]},"axis":{"orient":"top","values":[0.125,0.25,0.5,1,1.5,2,3,4,6,8,10,11.2,12.5,14,16],"labelExpr":"indexof([0.125,0.25,0.5,1,2,4,8,16],datum.value)>=0 ? format(datum.value,'~g') : ''","labelFontSize":19,"labelPadding":3,"labelFlush":false,"labelOverlap":false,"labelBound":false,"title":["Young","Frequency (kHz)"],"titleFontSize":19,"titleLineHeight":23,"titlePadding":11}},
"y":{"field":"t","type":"quantitative","scale":{"domain":[-10,90],"reverse":true},"axis":{"values":[-10,0,10,20,30,40,50,60,70,80,90],"labelExpr":"datum.value>=0 && datum.value<=80 && datum.value%20==0 ? datum.label : ''","labelFontSize":19,"labelPadding":3,"title":"Threshold (dB HL)","titleFontSize":19,"titlePadding":2}}},
"layer":[
{"data":{"name":"aud"},"transform":[{"filter":"datum.g=='Y'"}],"mark":{"type":"line","color":"#a8a8a8","strokeWidth":1},"encoding":{"detail":{"field":"id"}}},
{"data":{"name":"mean"},"transform":[{"filter":"datum.g=='Y'"}],"mark":{"type":"line","color":"#000","strokeWidth":2,"point":{"filled":true,"color":"#000","size":80,"shape":"circle"}},"encoding":{}},
{"data":{"name":"brkbox"},"mark":{"type":"rect","color":"#fff","opacity":1},"encoding":{"x2":{"field":"f2"},"y2":{"field":"t2"}}},
{"data":{"name":"brk"},"mark":{"type":"line","color":"#e8262a","strokeWidth":2},"encoding":{"detail":{"field":"b"},"order":{"field":"o"}}},
{"data":{"name":"brkt"},"mark":{"type":"text","fontSize":19,"color":"#222"},"encoding":{"text":{"field":"s"}}},
{"data":{"values":[{"f":0.072,"t":-42.6,"s":"A"}]},"mark":{"type":"text","fontSize":22,"fontWeight":"bold","color":"#000"},"encoding":{"text":{"field":"s"}}}
]},
{"width":352,"height":230,
"encoding":{"x":{"field":"f","type":"quantitative","scale":{"type":"log","base":2,"domain":[0.125,16]},"axis":{"orient":"top","values":[0.125,0.25,0.5,1,1.5,2,3,4,6,8,10,11.2,12.5,14,16],"labelExpr":"indexof([0.125,0.25,0.5,1,2,4,8,16],datum.value)>=0 ? format(datum.value,'~g') : ''","labelFontSize":19,"labelPadding":3,"labelFlush":false,"labelOverlap":false,"labelBound":false,"title":["Middle-aged","Frequency (kHz)"],"titleFontSize":19,"titleLineHeight":23,"titlePadding":11}},
"y":{"field":"t","type":"quantitative","scale":{"domain":[-10,90],"reverse":true},"axis":{"values":[-10,0,10,20,30,40,50,60,70,80,90],"labels":false,"title":null}}},
"layer":[
{"data":{"name":"aud"},"transform":[{"filter":"datum.g=='M'"}],"mark":{"type":"line","color":"#a8a8a8","strokeWidth":1},"encoding":{"detail":{"field":"id"}}},
{"data":{"name":"mean"},"transform":[{"filter":"datum.g=='M'"}],"mark":{"type":"line","color":"#000","strokeWidth":2,"point":{"filled":true,"color":"#000","size":90,"shape":"triangle-up"}},"encoding":{}}
]},
{"width":352,"height":230,
"encoding":{"x":{"field":"f","type":"quantitative","scale":{"type":"log","base":2,"domain":[0.125,16]},"axis":{"orient":"top","values":[0.125,0.25,0.5,1,1.5,2,3,4,6,8,10,11.2,12.5,14,16],"labelExpr":"indexof([0.125,0.25,0.5,1,2,4,8,16],datum.value)>=0 ? format(datum.value,'~g') : ''","labelFontSize":19,"labelPadding":3,"labelFlush":false,"labelOverlap":false,"labelBound":false,"title":["Older","Frequency (kHz)"],"titleFontSize":19,"titleLineHeight":23,"titlePadding":11}},
"y":{"field":"t","type":"quantitative","scale":{"domain":[-10,90],"reverse":true},"axis":{"values":[-10,0,10,20,30,40,50,60,70,80,90],"labels":false,"title":null}}},
"layer":[
{"data":{"name":"aud"},"transform":[{"filter":"datum.g=='O'"}],"mark":{"type":"line","color":"#a8a8a8","strokeWidth":1},"encoding":{"detail":{"field":"id"}}},
{"data":{"name":"mean"},"transform":[{"filter":"datum.g=='O'"}],"mark":{"type":"line","color":"#000","strokeWidth":2,"point":{"filled":true,"color":"#000","size":80,"shape":"square"}},"encoding":{}}
]}
],"spacing":59,"bounds":"flush"},
{"hconcat":[
{"width":275,"height":168,"title":{"text":"PTA-LF","fontSize":20,"offset":-36},
"encoding":{"x":{"field":"a","type":"quantitative","scale":{"domain":[0,80]},"axis":{"values":[0,10,20,30,40,50,60,70,80],"labelExpr":"datum.value==0 ? '' : datum.label","labelFontSize":18,"labelPadding":5,"labelFlush":false,"labelOverlap":false,"title":"Age (years)","titleFontSize":18,"titlePadding":1}},
"y":{"field":"t","type":"quantitative","scale":{"domain":[0,80]},"axis":{"values":[0,10,20,30,40,50,60,70,80],"labelExpr":"datum.value%20==0 ? datum.label : ''","labelFontSize":18,"labelPadding":3,"labelFlush":false,"title":"Threshold (dB HL)","titleFontSize":22,"titlePadding":5}}},
"layer":[
{"data":{"name":"band"},"mark":{"type":"rect","color":"#c4c4c4","opacity":0.5},"encoding":{"x2":{"field":"a2"},"y2":{"field":"t2"}}},
{"data":{"name":"box"},"mark":{"type":"rect","color":"#fff","opacity":1},"encoding":{"x2":{"field":"a2"},"y2":{"field":"t2"}}},
{"data":{"name":"grp"},"mark":{"type":"text","fontSize":17,"color":"#222"},"encoding":{"text":{"field":"s"}}},
{"data":{"name":"sc"},"transform":[{"filter":"datum.p=='LF'"}],"mark":{"type":"point","filled":true,"color":"#000","opacity":1,"size":60},"encoding":{"shape":{"field":"c","type":"nominal","scale":{"domain":["y","m","o"],"range":["circle","triangle-up","square"]},"legend":null}}},
{"data":{"name":"reg"},"transform":[{"filter":"datum.p=='LF'"}],"mark":{"type":"line","color":"#000","strokeWidth":2},"encoding":{}},
{"data":{"name":"eq"},"transform":[{"filter":"datum.p=='LF'"}],"mark":{"type":"text","fontSize":15,"align":"left","color":"#000"},"encoding":{"text":{"field":"s"}}},
{"data":{"values":[{"a":-11.6,"t":93.3,"s":"B"}]},"mark":{"type":"text","fontSize":22,"fontWeight":"bold","color":"#000"},"encoding":{"text":{"field":"s"}}}
]},
{"width":275,"height":168,"title":{"text":"PTA4","fontSize":20,"offset":3},
"encoding":{"x":{"field":"a","type":"quantitative","scale":{"domain":[0,80]},"axis":{"values":[0,10,20,30,40,50,60,70,80],"labelExpr":"datum.value==0 ? '' : datum.label","labelFontSize":18,"labelPadding":5,"labelFlush":false,"labelOverlap":false,"title":"Age (years)","titleFontSize":18,"titlePadding":1}},
"y":{"field":"t","type":"quantitative","scale":{"domain":[0,80]},"axis":{"values":[0,10,20,30,40,50,60,70,80],"labels":false,"title":null}}},
"layer":[
{"data":{"name":"band"},"mark":{"type":"rect","color":"#c4c4c4","opacity":0.5},"encoding":{"x2":{"field":"a2"},"y2":{"field":"t2"}}},
{"data":{"name":"box"},"mark":{"type":"rect","color":"#fff","opacity":1},"encoding":{"x2":{"field":"a2"},"y2":{"field":"t2"}}},
{"data":{"name":"grp"},"mark":{"type":"text","fontSize":17,"color":"#222"},"encoding":{"text":{"field":"s"}}},
{"data":{"name":"sc"},"transform":[{"filter":"datum.p=='A4'"}],"mark":{"type":"point","filled":true,"color":"#000","opacity":1,"size":60},"encoding":{"shape":{"field":"c","type":"nominal","scale":{"domain":["y","m","o"],"range":["circle","triangle-up","square"]},"legend":null}}},
{"data":{"name":"reg"},"transform":[{"filter":"datum.p=='A4'"}],"mark":{"type":"line","color":"#000","strokeWidth":2},"encoding":{}},
{"data":{"name":"eq"},"transform":[{"filter":"datum.p=='A4'"}],"mark":{"type":"text","fontSize":15,"align":"left","color":"#000"},"encoding":{"text":{"field":"s"}}}
]},
{"width":275,"height":168,"title":{"text":"PTA-HF","fontSize":20,"offset":3},
"encoding":{"x":{"field":"a","type":"quantitative","scale":{"domain":[0,80]},"axis":{"values":[0,10,20,30,40,50,60,70,80],"labelExpr":"datum.value==0 ? '' : datum.label","labelFontSize":18,"labelPadding":5,"labelFlush":false,"labelOverlap":false,"title":"Age (years)","titleFontSize":18,"titlePadding":1}},
"y":{"field":"t","type":"quantitative","scale":{"domain":[0,80]},"axis":{"values":[0,10,20,30,40,50,60,70,80],"labels":false,"title":null}}},
"layer":[
{"data":{"name":"band"},"mark":{"type":"rect","color":"#c4c4c4","opacity":0.5},"encoding":{"x2":{"field":"a2"},"y2":{"field":"t2"}}},
{"data":{"name":"box"},"mark":{"type":"rect","color":"#fff","opacity":1},"encoding":{"x2":{"field":"a2"},"y2":{"field":"t2"}}},
{"data":{"name":"grp"},"mark":{"type":"text","fontSize":17,"color":"#222"},"encoding":{"text":{"field":"s"}}},
{"data":{"name":"sc"},"transform":[{"filter":"datum.p=='HF'"}],"mark":{"type":"point","filled":true,"color":"#000","opacity":1,"size":60},"encoding":{"shape":{"field":"c","type":"nominal","scale":{"domain":["y","m","o"],"range":["circle","triangle-up","square"]},"legend":null}}},
{"data":{"name":"reg"},"transform":[{"filter":"datum.p=='HF'"}],"mark":{"type":"line","color":"#000","strokeWidth":2},"encoding":{}},
{"data":{"name":"eq"},"transform":[{"filter":"datum.p=='HF'"}],"mark":{"type":"text","fontSize":15,"align":"left","color":"#000"},"encoding":{"text":{"field":"s"}}}
]},
{"width":275,"height":168,"title":{"text":"PTA-EHF","fontSize":20,"offset":3},
"encoding":{"x":{"field":"a","type":"quantitative","scale":{"domain":[0,80]},"axis":{"values":[0,10,20,30,40,50,60,70,80],"labelExpr":"datum.value==0 ? '' : datum.label","labelFontSize":18,"labelPadding":5,"labelFlush":false,"labelOverlap":false,"title":"Age (years)","titleFontSize":18,"titlePadding":1}},
"y":{"field":"t","type":"quantitative","scale":{"domain":[0,80]},"axis":{"values":[0,10,20,30,40,50,60,70,80],"labels":false,"title":null}}},
"layer":[
{"data":{"name":"band"},"mark":{"type":"rect","color":"#c4c4c4","opacity":0.5},"encoding":{"x2":{"field":"a2"},"y2":{"field":"t2"}}},
{"data":{"name":"box"},"mark":{"type":"rect","color":"#fff","opacity":1},"encoding":{"x2":{"field":"a2"},"y2":{"field":"t2"}}},
{"data":{"name":"grp"},"mark":{"type":"text","fontSize":17,"color":"#222"},"encoding":{"text":{"field":"s"}}},
{"data":{"name":"sc"},"transform":[{"filter":"datum.p=='EHF'"}],"mark":{"type":"point","filled":true,"color":"#000","opacity":1,"size":60},"encoding":{"shape":{"field":"c","type":"nominal","scale":{"domain":["y","m","o"],"range":["circle","triangle-up","square"]},"legend":null}}},
{"data":{"name":"reg"},"transform":[{"filter":"datum.p=='EHF'"}],"mark":{"type":"line","color":"#000","strokeWidth":2},"encoding":{}},
{"data":{"name":"eq"},"transform":[{"filter":"datum.p=='EHF'"}],"mark":{"type":"text","fontSize":15,"align":"left","color":"#000"},"encoding":{"text":{"field":"s"}}}
]}
],"spacing":28,"bounds":"flush"}
],
"spacing":3
}
